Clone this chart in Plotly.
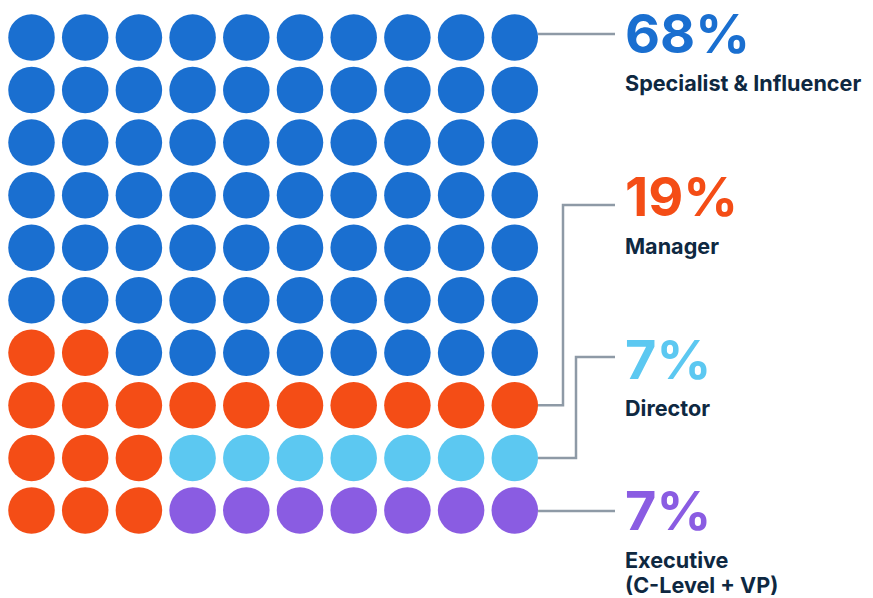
import plotly.graph_objects as go

# ---- data ----
categories = ["Specialist & Influencer", "Manager", "Director", "Executive<br>(C-Level + VP)"]
cell_counts = [68, 18, 7, 7]
pct_labels = ["68%", "19%", "7%", "7%"]
colors = ["#1A6FD0", "#F44D16", "#5CC8F1", "#8A5CE2"]

N_COLS, N_ROWS = 10, 10

# ---- assign waffle cells ----
grid = [[None] * N_COLS for _ in range(N_ROWS)]
grid_row_for = {3: N_ROWS - 1, 2: N_ROWS - 2}
for ci, r in grid_row_for.items():
    for k in range(cell_counts[ci]):
        grid[r][N_COLS - 1 - k] = ci
left = cell_counts[1]
for r in range(N_ROWS - 1, -1, -1):
    for c in range(N_COLS):
        if left and grid[r][c] is None:
            grid[r][c] = 1
            left -= 1
for r in range(N_ROWS):
    for c in range(N_COLS):
        if grid[r][c] is None:
            grid[r][c] = 0

# ---- layout geometry (pixel space; page has 8px body margin) ----
W, H = 873, 598
OFF = 8
X0, DX = 31.5 - OFF, 53.7
Y0, DY = 37.5 - OFF, 52.55
DOT = 46.5

fig = go.Figure()
for ci, cat in enumerate(categories):
    xs, ys = [], []
    for r in range(N_ROWS):
        for c in range(N_COLS):
            if grid[r][c] == ci:
                xs.append(X0 + DX * c)
                ys.append(Y0 + DY * r)
    fig.add_trace(go.Scatter(x=xs, y=ys, mode="markers",
                             marker=dict(size=DOT, color=colors[ci], line=dict(width=0)),
                             hoverinfo="skip", showlegend=False))

anchor_rows = [0, 7, 8, 9]
elbow_x = [None, 563 - OFF, 576 - OFF, None]
label_y = [34 - OFF, 205 - OFF, 357 - OFF, 511 - OFF]
line_end = 615 - OFF
text_x = 623 - OFF
line_col = "#8E9AA6"
xr = X0 + DX * (N_COLS - 1) + DOT / 2
for i in range(4):
    ya = Y0 + DY * anchor_rows[i]
    if elbow_x[i] is None:
        lx, ly = [xr, line_end], [label_y[i], label_y[i]]
    else:
        lx = [xr, elbow_x[i], elbow_x[i], line_end]
        ly = [ya, ya, label_y[i], label_y[i]]
    fig.add_trace(go.Scatter(x=lx, y=ly, mode="lines",
                             line=dict(color=line_col, width=2.5),
                             hoverinfo="skip", showlegend=False))

pct_y = [33 - OFF, 196.5 - OFF, 359 - OFF, 510 - OFF]
name_y = [[83 - OFF], [245.5 - OFF], [407.5 - OFF], [559.5 - OFF, 585 - OFF]]
for i in range(4):
    fig.add_annotation(x=text_x, y=pct_y[i], text=pct_labels[i], showarrow=False,
                       xanchor="left", yanchor="middle",
                       font=dict(family="Inter", size=54, color=colors[i], weight=700))
    parts = categories[i].split("<br>")
    for p, yy in zip(parts, name_y[i]):
        fig.add_annotation(x=text_x, y=yy, text=p, showarrow=False,
                           xanchor="left", yanchor="middle",
                           font=dict(family="Inter", size=21.6, color="#0E2841", weight=700))

fig.update_layout(width=W, height=H, margin=dict(l=0, r=0, t=0, b=0),
                  paper_bgcolor="white", plot_bgcolor="white",
                  xaxis=dict(range=[0, W], visible=False, fixedrange=True),
                  yaxis=dict(range=[H, 0], visible=False, fixedrange=True))
fig.write_html("out.html")
